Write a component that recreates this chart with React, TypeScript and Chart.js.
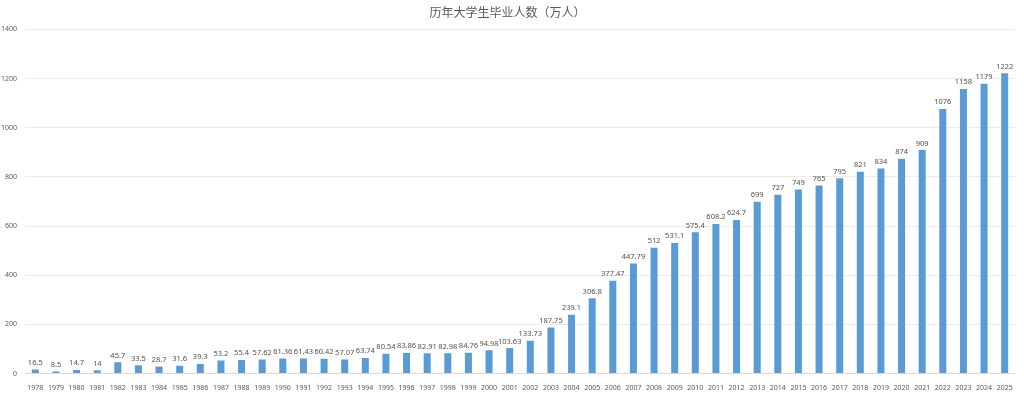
import React, { useEffect, useRef } from "react";
import { Chart, registerables } from "chart.js";

Chart.register(...registerables);

const years: string[] = [
  "1978", "1979", "1980", "1981", "1982", "1983", "1984", "1985", "1986", "1987",
  "1988", "1989", "1990", "1991", "1992", "1993", "1994", "1995", "1996", "1997",
  "1998", "1999", "2000", "2001", "2002", "2003", "2004", "2005", "2006", "2007",
  "2008", "2009", "2010", "2011", "2012", "2013", "2014", "2015", "2016", "2017",
  "2018", "2019", "2020", "2021", "2022", "2023", "2024", "2025",
];

const graduates: number[] = [
  16.5, 8.5, 14.7, 14, 45.7, 33.5, 28.7, 31.6, 39.3, 53.2,
  55.4, 57.62, 61.36, 61.43, 60.42, 57.07, 63.74, 80.54, 83.86, 82.91,
  82.98, 84.76, 94.98, 103.63, 133.73, 187.75, 239.1, 306.8, 377.47, 447.79,
  512, 531.1, 575.4, 608.2, 624.7, 699, 727, 749, 765, 795,
  821, 834, 874, 909, 1076, 1158, 1179, 1222,
];

const titleText = "历年大学生毕业人数（万人）";

const valueLabels = {
  id: "valueLabels",
  afterDatasetsDraw(chart: any) {
    const ctx = chart.ctx;
    const meta = chart.getDatasetMeta(0);
    ctx.save();
    ctx.font = "7.5px 'Noto Sans', sans-serif";
    ctx.fillStyle = "#505050";
    ctx.textAlign = "center";
    ctx.textBaseline = "bottom";
    meta.data.forEach((bar: any, i: number) => {
      ctx.fillText(String(graduates[i]), bar.x, bar.y - 3);
    });
    ctx.restore();
  },
};

export default function App() {
  const ref = useRef<HTMLCanvasElement>(null);
  useEffect(() => {
    document.body.style.margin = "0";
    const chart = new Chart(ref.current as HTMLCanvasElement, {
      type: "bar",
      data: {
        labels: years,
        datasets: [
          {
            data: graduates,
            backgroundColor: "#5b9bd5",
            barPercentage: 0.34,
            categoryPercentage: 1,
          },
        ],
      },
      options: {
        responsive: false,
        animation: false,
        layout: { padding: { left: 0, right: 9, top: 0, bottom: 0 } },
        plugins: {
          legend: { display: false },
          tooltip: { enabled: false },
          title: {
            display: true,
            text: titleText,
            color: "#595959",
            font: { size: 12, family: "'Noto Sans CJK SC', sans-serif", weight: "normal" },
            padding: { top: 5, bottom: 10 },
          },
        },
        scales: {
          x: {
            grid: { display: false },
            border: { display: true, color: "#d9d9d9" },
            ticks: {
              color: "#595959",
              font: { size: 7, family: "'Noto Sans', sans-serif" },
              maxRotation: 0,
              autoSkip: false,
              padding: 2,
            },
          },
          y: {
            min: 0,
            max: 1400,
            afterFit: (s: any) => {
              s.width = 25;
            },
            grid: { color: "#ececec", drawTicks: false },
            border: { display: false },
            ticks: {
              stepSize: 200,
              color: "#595959",
              font: { size: 7, family: "'Noto Sans', sans-serif" },
              padding: 8,
              callback: (v: any) => String(v),
            },
          },
        },
      },
      plugins: [valueLabels],
    });
    return () => chart.destroy();
  }, []);
  return <canvas ref={ref} width={1024} height={394} style={{ display: "block" }} />;
}
